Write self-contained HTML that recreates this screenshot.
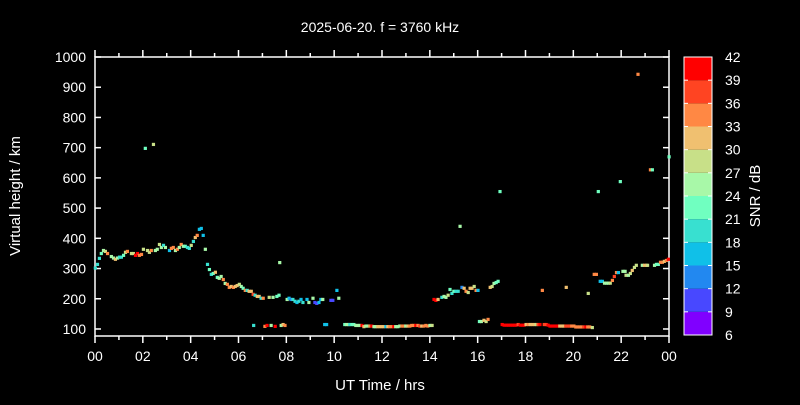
<!DOCTYPE html>
<html><head><meta charset="utf-8"><style>
body{margin:0;background:#000;}
svg text{font-family:"Liberation Sans",sans-serif;fill:#fff;}
</style></head><body>
<svg id="chart" width="800" height="400" xmlns="http://www.w3.org/2000/svg">
<rect x="0" y="0" width="800" height="400" fill="#000"/>
<text x="380" y="32" font-size="14" text-anchor="middle">2025-06-20. f = 3760 kHz</text>
<text x="380" y="390" font-size="15" text-anchor="middle">UT Time / hrs</text>
<text transform="translate(20,196) rotate(-90)" font-size="15" text-anchor="middle">Virtual height / km</text>
<text transform="translate(760,196) rotate(-90)" font-size="15" text-anchor="middle">SNR / dB</text>
<g id="axes"></g>
<g id="points"></g>
<g id="cbar"></g>
</svg>
<script>
const hours=[0.01,0.1,0.18,0.26,0.35,0.43,0.52,0.68,0.77,0.85,0.94,1.02,1.1,1.19,1.27,1.35,1.52,1.6,1.69,1.77,1.85,1.94,2.02,2.1,2.19,2.27,2.35,2.44,2.52,2.6,2.69,2.77,2.86,2.94,3.11,3.19,3.27,3.36,3.44,3.52,3.6,3.69,3.77,3.86,3.94,4.02,4.11,4.19,4.27,4.36,4.44,4.52,4.61,4.7,4.78,4.86,4.94,5.03,5.11,5.19,5.27,5.36,5.44,5.53,5.61,5.69,5.78,5.86,5.94,6.03,6.11,6.19,6.28,6.36,6.44,6.53,6.63,6.61,6.69,6.78,6.86,6.94,7.03,7.1,7.19,7.28,7.36,7.44,7.53,7.72,7.6,7.69,7.78,7.86,7.94,8.03,8.11,8.19,8.27,8.36,8.44,8.52,8.61,8.69,8.86,8.94,9.11,9.19,9.27,9.36,9.44,9.52,9.6,9.68,9.86,9.94,10.11,10.19,10.44,10.52,10.6,10.65,10.74,10.82,10.9,10.99,11.07,11.16,11.24,11.32,11.41,11.49,11.57,11.66,11.74,11.82,11.91,11.99,12.07,12.16,12.24,12.32,12.41,12.49,12.57,12.66,12.74,12.83,12.91,12.99,13.08,13.16,13.24,13.33,13.41,13.5,13.58,13.66,13.75,13.83,13.91,14.0,14.09,14.17,14.25,14.34,14.5,14.59,14.67,14.76,14.84,14.92,15.0,15.09,15.18,15.26,15.34,15.43,15.51,15.6,15.68,15.76,15.85,15.93,16.01,16.07,16.15,16.26,16.35,16.43,16.52,16.6,16.68,16.77,16.85,16.93,17.02,17.1,17.19,17.27,17.35,17.44,17.52,17.6,17.69,17.77,17.86,17.94,18.02,18.11,18.19,18.27,18.36,18.44,18.52,18.6,18.7,18.78,18.86,18.94,19.02,19.1,19.19,19.27,19.35,19.43,19.52,19.6,19.7,19.68,19.77,19.85,19.93,20.02,20.1,20.18,20.27,20.35,20.43,20.52,20.6,20.68,20.79,20.62,20.87,20.96,21.04,21.12,21.21,21.3,21.38,21.46,21.54,21.63,21.71,21.8,21.88,21.96,22.07,22.16,22.2,22.3,22.38,22.46,22.55,22.63,22.7,22.88,22.97,23.04,23.1,23.22,23.3,23.39,23.47,23.55,23.64,23.72,23.8,23.89,23.97,24.0];
const heights=[302,314,334,350,360,357,350,340,335,331,335,338,338,344,354,357,350,350,344,350,344,347,364,698,360,354,360,711,360,364,380,370,377,370,360,367,370,360,364,370,380,374,374,370,367,377,390,403,410,430,433,410,364,314,297,281,284,288,271,268,274,264,251,248,238,241,238,241,244,248,241,235,228,228,225,225,112,215,212,208,208,202,202,109,112,205,112,205,109,320,208,212,112,115,112,198,202,198,198,192,188,192,198,188,198,188,202,188,185,188,198,198,115,115,195,195,228,202,115,115,115,115,115,115,112,112,112,112,108,110,110,110,110,108,108,108,108,108,108,108,108,108,108,108,108,108,110,110,110,110,110,110,112,112,112,112,110,110,110,112,110,112,112,198,195,198,205,208,205,212,231,218,225,225,225,440,238,235,225,221,235,235,241,228,228,125,125,129,125,132,238,241,251,254,258,555,115,113,113,113,113,113,113,113,115,113,113,113,115,115,115,115,115,115,115,115,228,115,115,113,110,110,110,110,110,110,110,110,238,110,110,110,110,110,107,107,107,107,107,107,107,107,105,218,281,281,555,258,258,252,252,252,252,261,274,287,287,588,291,291,278,278,284,294,304,311,943,311,311,311,311,627,627,311,314,314,321,321,324,327,331,670];
const snrs=[19,19,19,22,25,28,34,25,25,31,25,19,19,22,28,34,28,28,40,40,34,34,28,22,28,28,34,28,25,25,28,25,19,25,16,34,34,25,34,25,34,25,22,19,19,28,19,31,34,16,16,16,25,19,22,19,22,31,22,25,25,34,25,34,34,31,34,31,31,28,25,22,34,19,31,31,19,37,19,31,31,19,34,34,40,28,25,25,40,25,22,22,25,31,34,25,16,13,19,19,16,19,16,19,16,25,25,10,10,16,16,25,16,16,10,10,16,25,22,25,25,19,22,22,25,25,25,40,31,25,25,34,40,25,25,31,31,31,31,16,31,34,34,40,25,25,25,34,34,25,31,34,34,34,40,34,37,31,34,34,34,25,28,40,40,31,19,25,25,28,22,19,22,19,19,25,13,31,34,28,31,31,28,34,16,22,25,31,28,34,31,28,25,22,22,22,40,40,40,40,40,40,40,40,37,40,40,40,31,34,31,31,31,28,37,40,34,37,37,40,40,40,40,40,40,31,31,31,31,37,37,37,34,34,34,34,34,34,37,40,34,34,28,28,34,34,22,16,16,25,25,25,28,34,37,34,16,22,25,25,28,25,28,31,28,28,34,25,31,31,28,34,22,25,22,22,34,34,31,34,40,22];
const yTicks=[100,200,300,400,500,600,700,800,900,1000];
const xTicks=[0,2,4,6,8,10,12,14,16,18,20,22,24];
const xTickLabels=["00","02","04","06","08","10","12","14","16","18","20","22","00"];
const cbarLevels=[6,9,12,15,18,21,24,27,30,33,36,39,42];
const cbarColors=["#8000ff","#4848ff","#2288f0","#10c0e8","#38e0d0","#70ffc0","#a8f8a8","#c8e088","#f0c070","#ff8844","#ff4422","#ff0000"];

const NS="http://www.w3.org/2000/svg";
const X0=95,X1=669,Y1000=57,YBOT=336;
function xs(h){return X0+h*(X1-X0)/24;}
function ys(k){return Y1000+(1000-k)*0.3022;}
function cs(v){let i=Math.floor((v-6)/3);if(i<0)i=0;if(i>11)i=11;return cbarColors[i];}
function mk(tag,attrs,parent){const e=document.createElementNS(NS,tag);for(const k in attrs)e.setAttribute(k,attrs[k]);parent.appendChild(e);return e;}

const ax=document.getElementById('axes');
const border=mk('rect',{x:X0,y:Y1000,width:X1-X0,height:YBOT-Y1000,fill:'none',stroke:'#fff','stroke-width':1.5},ax);


for(let h=0;h<=24;h++){
  const x=xs(h),len=(h%2===0)?7:4;
  const t1=mk('line',{x1:x,x2:x,y1:YBOT,y2:YBOT+len,stroke:'#fff','stroke-width':1.5},ax);
  
  
  const t2=mk('line',{x1:x,x2:x,y1:Y1000,y2:Y1000-len,stroke:'#fff','stroke-width':1.5},ax);
  
  
}
xTicks.forEach((h,i)=>{
  const t=mk('text',{x:xs(h),y:361,'font-size':14,'text-anchor':'middle'},ax);
  t.textContent=xTickLabels[i];
  
  
});
yTicks.forEach(k=>{
  const y=ys(k);
  const a=mk('line',{x1:X0,x2:X0+6,y1:y,y2:y,stroke:'#fff','stroke-width':1.5},ax);
  
  
  const b=mk('line',{x1:X1,x2:X1-6,y1:y,y2:y,stroke:'#fff','stroke-width':1.5},ax);
  
  
  const t=mk('text',{x:86,y:y+5,'font-size':14,'text-anchor':'end'},ax);
  t.textContent=k;
  
  
});

const pg=document.getElementById('points');
hours.forEach((h,i)=>{
  const r=mk('rect',{x:xs(h)-1.5,y:ys(heights[i])-1.5,width:3.2,height:3.2,fill:cs(snrs[i])},pg);
  
  
});

const cb=document.getElementById('cbar');
const CX=684,CW=28,CT=57,CB=335,bh=(CB-CT)/12;
cbarColors.forEach((c,i)=>{
  const r=mk('rect',{x:CX,y:CB-(i+1)*bh,width:CW,height:bh,fill:c},cb);
  
  
});
const cbb=mk('rect',{x:CX,y:CT,width:CW,height:CB-CT,fill:'none',stroke:'#fff','stroke-width':1},cb);


cbarLevels.forEach((v,i)=>{
  const y=CB-i*bh;
  const l=mk('line',{x1:CX,x2:CX+4,y1:y,y2:y,stroke:'#fff'},cb);
  
  
  const l2=mk('line',{x1:CX+CW,x2:CX+CW-4,y1:y,y2:y,stroke:'#fff'},cb);
  
  
  const t=mk('text',{x:725,y:y+5,'font-size':14,'text-anchor':'start'},cb);
  t.textContent=v;
  
  
});
</script>
</body></html>
